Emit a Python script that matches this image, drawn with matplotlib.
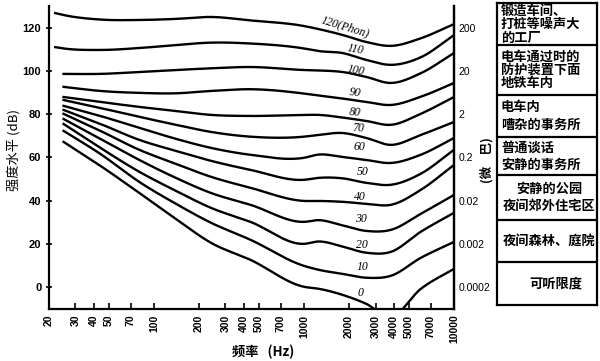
import numpy as np
import matplotlib
matplotlib.use('Agg')
import matplotlib.pyplot as plt

# equal-loudness contours
nan = np.nan
freq = [22, 25, 44, 80, 140, 240, 440, 1000, 1250, 1800, 2600, 3800, 6000, 10000]
phon = [120, 110, 100, 90, 80, 70, 60, 50, 40, 30, 20, 10, 0]
db_120 = [126.9, 126.0, 123.9, 123.7, 124.2, 125.1, 123.5, 120.9, 119.5, 116.8, 113.5, 111.7, 115.2, 121.8]
db_110 = [111.1, 110.5, 109.8, 110.7, 112.1, 113.2, 112.8, 110.5, 109.3, 108.4, 105.2, 102.9, 106.4, 116.7]
db_100 = [nan, 98.7, 98.7, 99.6, 100.5, 101.3, 101.9, 100.5, 100.3, 99.6, 97.3, 94.5, 99.0, 108.4]
db_90 = [nan, 92.7, 90.8, 89.9, 89.7, 90.8, 91.6, 89.6, 88.7, 87.3, 85.7, 84.3, 88.1, 94.5]
db_80 = [nan, 88.0, 85.7, 83.4, 81.5, 79.7, 79.2, 79.7, 79.7, 78.5, 76.9, 75.1, 80.2, 88.0]
db_70 = [nan, 86.6, 82.9, 78.8, 75.1, 71.8, 69.6, 69.6, 70.4, 71.3, 69.0, 65.8, 70.4, 76.4]
db_60 = [nan, 83.9, 79.2, 73.7, 68.6, 64.4, 61.2, 59.8, 61.3, 60.2, 58.8, 57.4, 61.2, 69.0]
db_50 = [nan, 82.0, 75.5, 68.1, 63.0, 58.4, 54.2, 49.6, 50.5, 50.3, 48.2, 47.3, 52.4, 63.5]
db_40 = [nan, 80.2, 72.3, 63.5, 57.0, 51.0, 45.9, 39.8, 39.8, 39.4, 38.5, 38.0, 44.9, 56.5]
db_30 = [nan, 77.8, 68.6, 58.8, 50.5, 43.5, 38.0, 30.1, 30.9, 28.5, 25.9, 26.4, 33.8, 42.6]
db_20 = [nan, 75.5, 64.4, 53.3, 44.5, 36.6, 30.1, 19.9, 21.0, 18.7, 15.8, 16.2, 25.5, 34.3]
db_10 = [nan, 72.3, 61.6, 48.6, 38.5, 29.7, 21.8, 9.7, 7.9, 6.0, 4.2, 5.1, 13.4, 20.8]
db_0 = [nan, 67.2, 56.1, 43.5, 31.5, 20.4, 12.5, 0.0, -0.9, -3.7, -7.9, -14.0, -1.0, 8.3]
curves = [db_120, db_110, db_100, db_90, db_80, db_70, db_60, db_50, db_40, db_30, db_20, db_10, db_0]

label_text = ['120(Phon)', '110', '100', '90', '80', '70', '60', '50', '40', '30', '20', '10', '0']
label_freq = [1880, 2200, 2200, 2200, 2200, 2300, 2340, 2480, 2340, 2390, 2450, 2450, 2390]
label_db = [120.5, 109.8, 100.1, 89.9, 81.0, 73.7, 64.9, 53.3, 41.7, 31.5, 19.5, 9.3, -2.8]
label_rot = [-17, -10, -10, -8, -5, -3, 0, 0, 0, 0, 0, 0, 0]

xticks = [20, 30, 40, 50, 70, 100, 200, 300, 400, 500, 700, 1000, 2000, 3000, 4000, 5000, 7000, 10000]
xticklabels = ['20', '30', '40', '50', '70', '100', '200', '300', '400', '500', '700', '1000',
               '2000', '3000', '4000', '5000', '7000', '10000']
yticks = [0, 20, 40, 60, 80, 100, 120]
ubar_labels = ['0.0002', '0.002', '0.02', '0.2', '2', '20', '200']

box_lines = [["锻造车间、", "打桩等噪声大", "的工厂"],
             ["电车通过时的", "防护装置下面", "地铁车内"],
             ["电车内", "嘈杂的事务所"],
             ["普通谈话", "安静的事务所"],
             ["安静的公园", "夜间郊外住宅区"],
             ["夜间森林、庭院"],
             ["可听限度"]]

cjk = ['Noto Sans CJK SC', 'DejaVu Sans']


def smooth(x, y, n=30):
    # cubic Hermite through the read points (in log-frequency), for drawing only
    x = np.asarray(x, float)
    y = np.asarray(y, float)
    ok = ~np.isnan(y)
    x, y = np.log10(x[ok]), y[ok]
    h = np.diff(x)
    d = np.diff(y) / h
    m = np.empty_like(y)
    m[0], m[-1] = d[0], d[-1]
    m[1:-1] = (h[1:] * d[:-1] + h[:-1] * d[1:]) / (h[:-1] + h[1:])
    xs, ys = [], []
    t = np.linspace(0, 1, n, endpoint=False)
    for i in range(len(x) - 1):
        h00 = 2 * t ** 3 - 3 * t ** 2 + 1
        h10 = t ** 3 - 2 * t ** 2 + t
        h01 = -2 * t ** 3 + 3 * t ** 2
        h11 = t ** 3 - t ** 2
        xs.extend(x[i] + t * h[i])
        ys.extend(h00 * y[i] + h10 * h[i] * m[i] + h01 * y[i + 1] + h11 * h[i] * m[i + 1])
    xs.append(x[-1])
    ys.append(y[-1])
    return 10 ** np.array(xs), np.array(ys)


fig = plt.figure(figsize=(6, 3.61), dpi=100)
ax = fig.add_axes([49 / 600, 1 - 309 / 361, 405 / 600, 302.6 / 361])

for db in curves:
    fx, fy = smooth(freq, db)
    ax.plot(fx, fy, color='black', lw=1.7)

for txt, f, d, r in zip(label_text, label_freq, label_db, label_rot):
    ax.text(f, d, txt, ha='center', va='center', rotation=r, fontsize=8.5,
            family='Liberation Serif', style='italic', color='black')

ax.set_xscale('log')
ax.set_xlim(20, 10000)
ax.set_ylim(-10.3, 130)
ax.set_xticks(xticks)
ax.set_xticklabels(xticklabels, rotation=90, fontsize=7.5, family='Liberation Sans', weight='bold')
ax.xaxis.set_minor_locator(plt.NullLocator())
ax.tick_params(axis='x', direction='in', length=4, width=1.2, pad=4)
ax.set_yticks(yticks)
ax.set_yticklabels([str(v) for v in yticks], fontsize=8, family='Liberation Sans', weight='bold')
ax.tick_params(axis='y', direction='inout', length=5, width=1.2, pad=3)
ax.spines['top'].set_visible(False)
for s in ('left', 'bottom', 'right'):
    ax.spines[s].set_linewidth(1.6)

ax2 = ax.twinx()
ax2.set_ylim(ax.get_ylim())
ax2.set_yticks(yticks)
ax2.set_yticklabels(ubar_labels, fontsize=7.5, family='Liberation Sans')
ax2.tick_params(axis='y', length=0, pad=3)
for s in ('top', 'left', 'bottom'):
    ax2.spines[s].set_visible(False)
ax2.spines['right'].set_linewidth(1.6)

fig.text(14 / 600, 1 - 150 / 361, '强度水平 (dB)', rotation=90, ha='center', va='center',
         fontsize=9.5, family=cjk)
fig.text(263 / 600, 1 - 352 / 361, '频率   (Hz)', ha='center', va='center',
         fontsize=9.5, family=cjk, weight='bold')
fig.text(487 / 600, 1 - 160 / 361, '(微    巴)', rotation=90, ha='center', va='center',
         fontsize=9, family=cjk, weight='bold')

# right-hand column of example environments
bx = fig.add_axes([497 / 600, 1 - 305 / 361, 100 / 600, 302 / 361])
bx.set_xlim(497, 597)
bx.set_ylim(305, 3)
bx.set_xticks([])
bx.set_yticks([])
for s in bx.spines.values():
    s.set_linewidth(1.6)
edges = [3, 45, 95, 137, 175, 220, 262, 305]
for e in edges[1:-1]:
    bx.axhline(e, color='black', lw=1.6)
for i, lines in enumerate(box_lines):
    mid = (edges[i] + edges[i + 1]) / 2
    step = 13.5 if len(lines) == 3 else 17
    left = i < 4
    for j, line in enumerate(lines):
        y = mid + (j - (len(lines) - 1) / 2) * step
        if left:
            bx.text(501, y, line, ha='left', va='center', fontsize=9.5, family=cjk, weight='bold')
        else:
            bx.text(549 if i < 6 else 556, y, line, ha='center', va='center', fontsize=9.5,
                    family=cjk, weight='bold')

fig.savefig('out.png', dpi=100, facecolor='white')
